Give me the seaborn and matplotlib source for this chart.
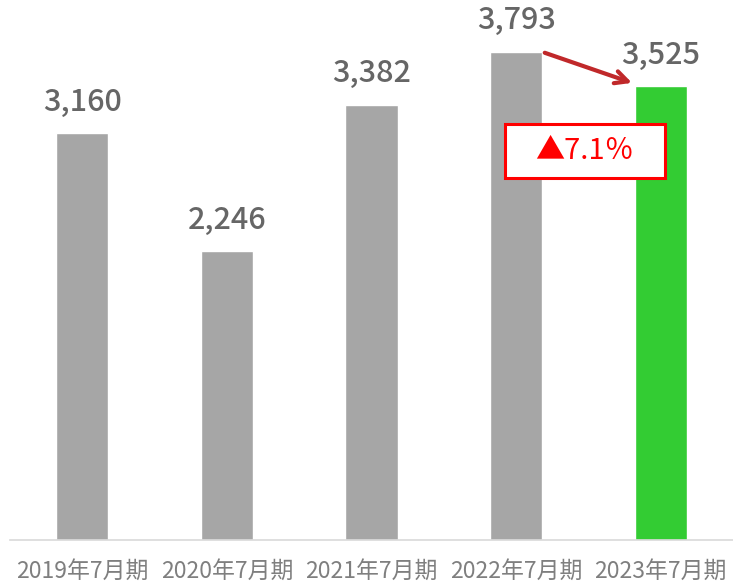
import numpy as np
import pandas as pd
import seaborn as sns
import matplotlib.pyplot as plt
from matplotlib.patches import Rectangle

# data
periods = ["2019年7月期", "2020年7月期", "2021年7月期", "2022年7月期", "2023年7月期"]
values = [3160, 2246, 3382, 3793, 3525]
bar_colors = ["#A6A6A6", "#A6A6A6", "#A6A6A6", "#A6A6A6", "#33CC33"]
change_label = "▲7.1％"

df = pd.DataFrame({"period": periods, "value": values})

sns.set_style("white")
plt.rcParams["font.family"] = ["Noto Sans CJK JP", "DejaVu Sans"]

fig = plt.figure(figsize=(7.33, 5.87), dpi=100)
ax = fig.add_axes([10 / 733, 47 / 587, 723 / 733, 540 / 587])

sns.barplot(data=df, x="period", y="value", hue="period", palette=bar_colors,
            width=0.36, legend=False, ax=ax, saturation=1)

ax.set_xlim(-0.5, 4.5)
ax.set_ylim(0, 4196)
ax.set_xlabel("")
ax.set_ylabel("")
ax.set_yticks([])
ax.tick_params(axis="x", length=0, labelsize=16.5, labelcolor="#7F7F7F", pad=14)
for s in ["top", "left", "right"]:
    ax.spines[s].set_visible(False)
ax.spines["bottom"].set_color("#D9D9D9")
ax.spines["bottom"].set_linewidth(1.2)

# value labels
for i, v in enumerate(values):
    ax.text(i, v + 120, f"{v:,}", ha="center", va="bottom", fontsize=22,
            color="#666666", fontweight="medium")

# arrow from 2022 bar top to 2023 bar top
ax.annotate("", xy=(4 - 0.18, values[4] + 20), xytext=(3 + 0.18, values[3]),
            arrowprops=dict(arrowstyle="->,head_length=0.9,head_width=0.45",
                            color="#C0282A", lw=3))

# change box
ax.add_patch(Rectangle((2.92, 2813), 1.11, 419, fc="white", ec="#FF0000",
                       lw=2.2, zorder=5))
ax.text(3.476, 3022, change_label, ha="center", va="center", fontsize=21,
        color="#FF0000", zorder=6)

plt.savefig("out.png", dpi=100)
